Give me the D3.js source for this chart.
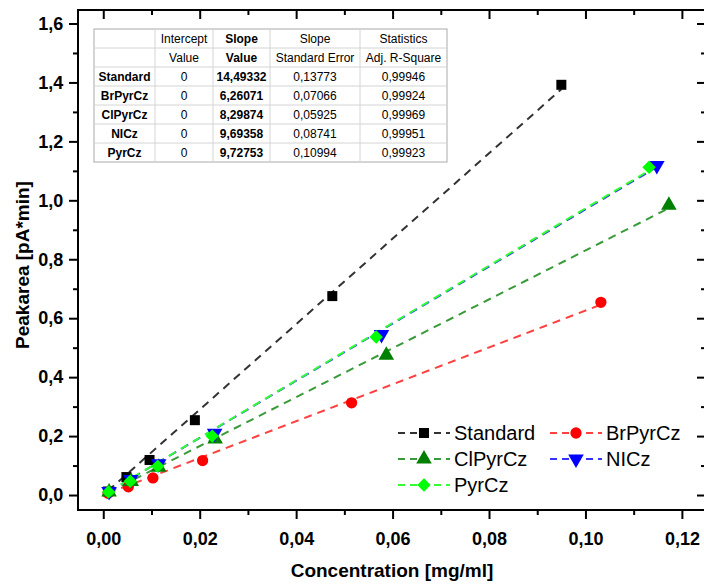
<!DOCTYPE html>
<html>
<head>
<meta charset="utf-8">
<script src="https://cdn.jsdelivr.net/npm/d3@7"></script>
<style>
  html, body { margin: 0; padding: 0; background: #fff; }
  svg { display: block; font-family: "Liberation Sans", Arial, sans-serif; }
</style>
</head>
<body>
<svg id="chart" width="704" height="584"></svg>
<script>
// Calibration data: concentration [mg/ml] vs. peak area [pA*min]
const seriesNames = ["Standard", "BrPyrCz", "ClPyrCz", "NICz", "PyrCz"];
const standardConc = [0.0010, 0.0048, 0.0096, 0.0190, 0.0475, 0.0950];
const standardArea = [0.012, 0.061, 0.119, 0.254, 0.675, 1.392];
const brPyrCzConc = [0.0010, 0.0052, 0.0103, 0.0206, 0.0515, 0.1032];
const brPyrCzArea = [0.006, 0.028, 0.058, 0.117, 0.313, 0.654];
const clPyrCzConc = [0.0012, 0.0058, 0.0115, 0.0232, 0.0587, 0.1173];
const clPyrCzArea = [0.010, 0.046, 0.094, 0.190, 0.474, 0.983];
const niczConc = [0.0012, 0.0057, 0.0115, 0.0231, 0.0577, 0.1148];
const niczArea = [0.012, 0.053, 0.106, 0.210, 0.545, 1.118];
const pyrCzConc = [0.0011, 0.0056, 0.0113, 0.0226, 0.0566, 0.1132];
const pyrCzArea = [0.010, 0.047, 0.098, 0.200, 0.536, 1.112];

// Linear fit results (intercept fixed at 0)
const intercepts = ["0", "0", "0", "0", "0"];
const slopes = [14.49332, 6.26071, 8.29874, 9.69358, 9.72753];
const slopeErrors = ["0,13773", "0,07066", "0,05925", "0,08741", "0,10994"];
const adjR2 = ["0,99946", "0,99924", "0,99969", "0,99951", "0,99923"];

// Axis ticks
const xTicks = [0, 0.02, 0.04, 0.06, 0.08, 0.10, 0.12];
const yTicks = [0, 0.2, 0.4, 0.6, 0.8, 1.0, 1.2, 1.4, 1.6];

const concs = [standardConc, brPyrCzConc, clPyrCzConc, niczConc, pyrCzConc];
const areas = [standardArea, brPyrCzArea, clPyrCzArea, niczArea, pyrCzArea];
const colors = ["#000000", "#ff0000", "#008000", "#0000ff", "#00ff00"];
const lineColors = ["#333333", "#ff4040", "#3a9a3a", "#3333ff", "#33ff33"];
const symbols = ["square", "circle", "triangleUp", "triangleDown", "diamond"];

const svg = d3.select("#chart");
const plotLeft = 78, plotRight = 706, plotTop = 10, plotBottom = 510;

const x = d3.scaleLinear().domain([-0.00524, 0.125]).range([plotLeft, plotRight]);
const y = d3.scaleLinear().domain([-0.0508, 1.6458]).range([plotBottom, plotTop]);

const comma = v => v.toFixed(2).replace(".", ",");
const comma1 = v => v.toFixed(1).replace(".", ",");

// Axes (bottom / left with labels, top / right inward ticks)
const xMinor = d3.range(0, 0.1251, 0.01).filter(v => Math.round(v * 100) % 2 === 1);
const yMinor = d3.range(0, 1.65, 0.1).filter(v => Math.round(v * 10) % 2 === 1);

const gx = svg.append("g").attr("transform", `translate(0,${plotBottom})`)
  .call(d3.axisBottom(x).tickValues(xTicks).tickFormat(comma).tickSize(9).tickSizeOuter(0));
svg.append("g").attr("transform", `translate(0,${plotBottom})`)
  .call(d3.axisBottom(x).tickValues(xMinor).tickFormat("").tickSize(5).tickSizeOuter(0));
const gy = svg.append("g").attr("transform", `translate(${plotLeft},0)`)
  .call(d3.axisLeft(y).tickValues(yTicks).tickFormat(comma1).tickSize(9).tickSizeOuter(0));
svg.append("g").attr("transform", `translate(${plotLeft},0)`)
  .call(d3.axisLeft(y).tickValues(yMinor).tickFormat("").tickSize(5).tickSizeOuter(0));
svg.append("g").attr("transform", `translate(0,${plotTop})`)
  .call(d3.axisBottom(x).tickValues(xTicks).tickFormat("").tickSize(9).tickSizeOuter(0));
svg.append("g").attr("transform", `translate(0,${plotTop})`)
  .call(d3.axisBottom(x).tickValues(xMinor).tickFormat("").tickSize(5).tickSizeOuter(0));
svg.append("g").attr("transform", `translate(${plotRight},0)`)
  .call(d3.axisLeft(y).tickValues(yTicks).tickFormat("").tickSize(9).tickSizeOuter(0));
svg.append("g").attr("transform", `translate(${plotRight},0)`)
  .call(d3.axisLeft(y).tickValues(yMinor).tickFormat("").tickSize(5).tickSizeOuter(0));

svg.selectAll(".domain").remove();
svg.selectAll(".tick line").attr("stroke", "#000").attr("stroke-width", 2);
gx.selectAll("text").attr("font-size", 18).attr("font-weight", "bold").attr("dy", "1.25em").attr("fill", "#000")
  .attr("font-family", "Liberation Sans, Arial, sans-serif");
gy.selectAll("text").attr("font-size", 18).attr("font-weight", "bold").attr("dx", "-0.15em").attr("fill", "#000")
  .attr("font-family", "Liberation Sans, Arial, sans-serif");

// Frame
svg.append("rect").attr("x", plotLeft).attr("y", plotTop).attr("width", plotRight - plotLeft).attr("height", plotBottom - plotTop)
  .attr("fill", "none").attr("stroke", "#000").attr("stroke-width", 2);

// Axis titles
svg.append("text").attr("x", (plotLeft + plotRight) / 2).attr("y", 577).attr("text-anchor", "middle")
  .attr("font-size", 19).attr("font-weight", "bold").text("Concentration [mg/ml]");
svg.append("text").attr("transform", `translate(29,265) rotate(-90)`).attr("text-anchor", "middle")
  .attr("font-size", 19).attr("font-weight", "bold").text("Peakarea [pA*min]");

// Marker path generator (diamond = square turned by 45°)
function markerPath(kind) {
  const map = {
    square: [d3.symbolSquare, 100],
    circle: [d3.symbolCircle, 100],
    triangleUp: [d3.symbolTriangle, 105],
    triangleDown: [d3.symbolTriangle, 105],
    diamond: [d3.symbolSquare, 90]
  };
  const [t, s] = map[kind];
  return d3.symbol().type(t).size(s)();
}
function markerRotation(kind) {
  if (kind === "triangleDown") return " rotate(180)";
  if (kind === "diamond") return " rotate(45)";
  return "";
}

const plot = svg.append("g");

// Fit lines
seriesNames.forEach((name, i) => {
  const ext = d3.extent(concs[i]);
  plot.append("line")
    .attr("x1", x(ext[0])).attr("y1", y(slopes[i] * ext[0]))
    .attr("x2", x(ext[1])).attr("y2", y(slopes[i] * ext[1]))
    .attr("stroke", lineColors[i]).attr("stroke-width", 2)
    .attr("stroke-dasharray", "8,6");
});

// Data points
seriesNames.forEach((name, i) => {
  const pts = concs[i].map((c, j) => [c, areas[i][j]]);
  plot.selectAll(null).data(pts).enter().append("path")
    .attr("d", markerPath(symbols[i]))
    .attr("transform", d => `translate(${x(d[0])},${y(d[1])})` + markerRotation(symbols[i]))
    .attr("fill", colors[i]);
});

// Legend
const legendItems = [
  { i: 0, lx: 398, ly: 433 },
  { i: 1, lx: 550, ly: 433 },
  { i: 2, lx: 398, ly: 459 },
  { i: 3, lx: 550, ly: 459 },
  { i: 4, lx: 398, ly: 485 }
];
const legend = svg.append("g");
legendItems.forEach(it => {
  const g = legend.append("g").attr("transform", `translate(${it.lx},${it.ly})`);
  g.append("line").attr("x1", 0).attr("x2", 52).attr("y1", 0).attr("y2", 0)
    .attr("stroke", lineColors[it.i]).attr("stroke-width", 2).attr("stroke-dasharray", "7,5");
  g.append("path").attr("d", markerPath(symbols[it.i]))
    .attr("transform", `translate(26,0)` + markerRotation(symbols[it.i]))
    .attr("fill", colors[it.i]);
  g.append("text").attr("x", 56).attr("y", 7).attr("font-size", 20).attr("fill", "#000").text(seriesNames[it.i]);
});

// Fit parameter table
const colEdges = [94, 155, 213, 270, 360, 447];
const tableTop = 29, rowH = 19;
const headerRows = [
  ["", "Intercept", "Slope", "Slope", "Statistics"],
  ["", "Value", "Value", "Standard Error", "Adj. R-Square"]
];
const bodyRows = seriesNames.map((n, i) => [n, intercepts[i], slopes[i].toFixed(5).replace(".", ","), slopeErrors[i], adjR2[i]]);
const rows = headerRows.concat(bodyRows);
const table = svg.append("g");
table.append("rect").attr("x", colEdges[0]).attr("y", tableTop)
  .attr("width", colEdges[5] - colEdges[0]).attr("height", rowH * rows.length)
  .attr("fill", "#fff").attr("stroke", "#aaa").attr("stroke-width", 1);
for (let r = 1; r < rows.length; r++) {
  table.append("line").attr("x1", colEdges[0]).attr("x2", colEdges[5])
    .attr("y1", tableTop + r * rowH).attr("y2", tableTop + r * rowH)
    .attr("stroke", "#d4d4d4").attr("stroke-width", 1);
}
for (let c = 1; c < 5; c++) {
  table.append("line").attr("x1", colEdges[c]).attr("x2", colEdges[c])
    .attr("y1", tableTop).attr("y2", tableTop + rowH * rows.length)
    .attr("stroke", "#d4d4d4").attr("stroke-width", 1);
}
rows.forEach((row, r) => {
  row.forEach((cell, c) => {
    const bold = (c === 0 && r >= 2) || c === 2;
    table.append("text")
      .attr("x", (colEdges[c] + colEdges[c + 1]) / 2)
      .attr("y", tableTop + r * rowH + rowH / 2 + 4.5)
      .attr("text-anchor", "middle")
      .attr("font-size", 12)
      .attr("font-weight", bold ? "bold" : "normal")
      .attr("fill", "#000")
      .text(cell);
  });
});
</script>
</body>
</html>
